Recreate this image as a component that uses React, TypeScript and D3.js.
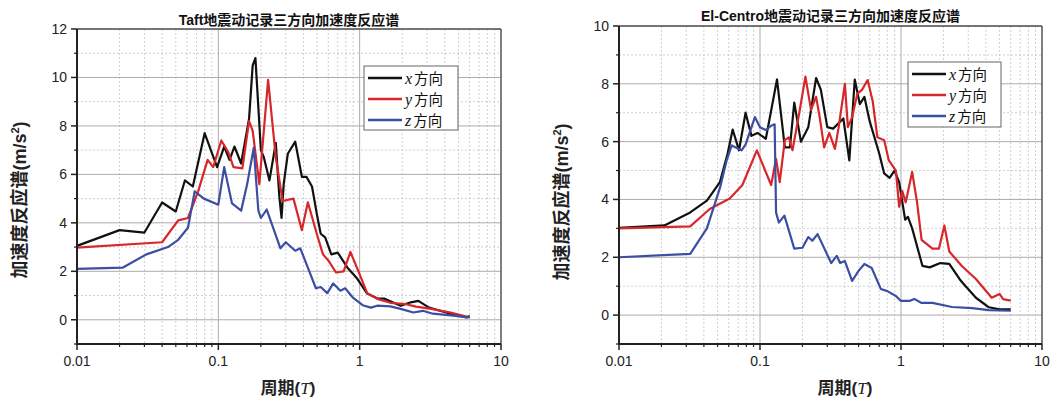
import React from 'react';
import * as d3 from 'd3';

type Pt = [number, number];

// Taft record: [period (s), spectral acceleration (m/s²)]
const taftX: Pt[] = [
  [0.01, 3.05], [0.02, 3.7], [0.03, 3.6], [0.04, 4.84], [0.05, 4.47], [0.058, 5.75], [0.066, 5.5],
  [0.08, 7.7], [0.098, 6.3], [0.11, 7.15], [0.12, 6.6], [0.13, 7.15], [0.145, 6.45], [0.165, 8.3],
  [0.175, 10.5], [0.183, 10.8], [0.2, 7.0], [0.21, 6.7], [0.23, 5.75], [0.255, 7.3], [0.27, 5.1],
  [0.28, 4.2], [0.29, 5.6], [0.31, 6.85], [0.35, 7.35], [0.39, 5.9], [0.42, 5.9], [0.46, 5.5],
  [0.5, 4.3], [0.53, 3.55], [0.57, 3.4], [0.63, 2.7], [0.7, 2.77], [0.82, 2.15], [0.96, 1.7],
  [1.13, 1.08], [1.35, 0.87], [1.5, 0.87], [1.95, 0.58], [2.3, 0.72], [2.6, 0.78], [3.1, 0.5],
  [4.4, 0.25], [5.7, 0.1], [6.0, 0.15],
];
const taftY: Pt[] = [
  [0.01, 2.98], [0.04, 3.2], [0.052, 4.1], [0.061, 4.2], [0.072, 5.3], [0.084, 6.6], [0.092, 6.3],
  [0.105, 7.4], [0.118, 6.9], [0.128, 6.3], [0.148, 6.25], [0.165, 8.2], [0.175, 7.8], [0.195, 5.6],
  [0.225, 9.9], [0.255, 6.7], [0.285, 4.9], [0.34, 5.0], [0.39, 3.7], [0.43, 4.85], [0.5, 3.5],
  [0.55, 2.7], [0.6, 2.45], [0.68, 1.95], [0.77, 2.0], [0.86, 2.8], [1.02, 1.75], [1.13, 1.1],
  [1.35, 0.85], [1.65, 0.7], [2.1, 0.65], [2.5, 0.54], [3.2, 0.45], [4.4, 0.3], [5.8, 0.12], [6.0, 0.08],
];
const taftZ: Pt[] = [
  [0.01, 2.1], [0.021, 2.15], [0.031, 2.7], [0.044, 3.0], [0.052, 3.3], [0.061, 3.8], [0.068, 5.3],
  [0.079, 5.0], [0.1, 4.75], [0.11, 6.3], [0.125, 4.8], [0.145, 4.5], [0.16, 5.6], [0.178, 7.1],
  [0.192, 4.5], [0.2, 4.2], [0.22, 4.55], [0.275, 2.95], [0.3, 3.2], [0.35, 2.85], [0.38, 2.95],
  [0.43, 2.15], [0.49, 1.3], [0.53, 1.35], [0.59, 1.1], [0.65, 1.5], [0.73, 1.2], [0.79, 1.3],
  [0.9, 0.9], [1.05, 0.6], [1.2, 0.5], [1.33, 0.58], [1.65, 0.55], [1.95, 0.45], [2.4, 0.3],
  [2.8, 0.37], [3.3, 0.25], [4.6, 0.17], [5.8, 0.1], [6.0, 0.15],
];

// El-Centro record
const elcX: Pt[] = [
  [0.01, 3.02], [0.021, 3.1], [0.032, 3.55], [0.042, 3.96], [0.052, 4.6], [0.059, 5.6], [0.064, 6.42],
  [0.071, 5.7], [0.079, 7.0], [0.087, 6.2], [0.096, 6.3], [0.11, 6.1], [0.132, 8.15], [0.15, 5.8],
  [0.163, 5.8], [0.175, 7.35], [0.195, 6.0], [0.22, 6.5], [0.25, 8.2], [0.27, 7.8], [0.3, 6.5],
  [0.33, 6.45], [0.39, 6.8], [0.43, 5.35], [0.47, 8.15], [0.51, 7.3], [0.55, 7.55], [0.6, 6.7],
  [0.7, 5.6], [0.76, 4.9], [0.83, 4.75], [0.9, 5.0], [0.97, 4.6], [1.07, 3.3], [1.12, 3.4],
  [1.2, 3.0], [1.42, 1.7], [1.6, 1.65], [1.9, 1.8], [2.2, 1.77], [2.6, 1.25], [2.75, 1.1],
  [3.4, 0.6], [4.2, 0.27], [5.0, 0.2], [6.0, 0.2],
];
const elcY: Pt[] = [
  [0.01, 3.0], [0.032, 3.07], [0.044, 3.67], [0.061, 4.03], [0.075, 4.5], [0.095, 5.7], [0.12, 4.5],
  [0.13, 5.4], [0.138, 4.6], [0.15, 6.05], [0.16, 6.15], [0.17, 5.7], [0.19, 7.0], [0.21, 8.25],
  [0.23, 7.1], [0.25, 7.55], [0.265, 6.85], [0.285, 5.8], [0.31, 6.3], [0.34, 5.75], [0.36, 6.45],
  [0.4, 8.0], [0.42, 6.5], [0.45, 6.85], [0.49, 7.65], [0.53, 7.8], [0.58, 8.13], [0.63, 7.4],
  [0.68, 6.15], [0.76, 6.05], [0.82, 5.35], [0.92, 5.0], [0.97, 3.75], [1.02, 4.3], [1.08, 3.9],
  [1.2, 4.95], [1.3, 3.9], [1.4, 2.6], [1.67, 2.3], [1.86, 2.3], [2.03, 3.1], [2.2, 2.2],
  [2.7, 1.7], [3.4, 1.25], [4.4, 0.6], [5.0, 0.73], [5.3, 0.55], [6.0, 0.5],
];
const elcZ: Pt[] = [
  [0.01, 2.0], [0.032, 2.12], [0.042, 3.0], [0.052, 4.4], [0.058, 5.35], [0.063, 5.87], [0.074, 5.7],
  [0.079, 5.9], [0.092, 6.85], [0.1, 6.5], [0.11, 6.4], [0.12, 6.55], [0.127, 6.6], [0.13, 3.55],
  [0.136, 3.2], [0.149, 3.44], [0.175, 2.3], [0.2, 2.33], [0.22, 2.7], [0.235, 2.57], [0.256, 2.8],
  [0.32, 1.8], [0.35, 2.05], [0.37, 1.8], [0.4, 1.87], [0.45, 1.18], [0.5, 1.53], [0.55, 1.77],
  [0.62, 1.63], [0.72, 0.9], [0.8, 0.83], [0.92, 0.66], [1.0, 0.49], [1.15, 0.49], [1.24, 0.56],
  [1.4, 0.42], [1.67, 0.42], [2.3, 0.28], [3.2, 0.24], [4.2, 0.17], [6.0, 0.15],
];

const xTickVals = [0.01, 0.1, 1, 10];
const xTickLabels = ['0.01', '0.1', '1', '10'];
const seriesNames = ['x', 'y', 'z'];
const seriesColors = ['#111111', '#d8272b', '#3b4ea3'];

const SANS = '"Liberation Sans", Arial, "Noto Sans CJK SC", sans-serif';
const CJK = '"Noto Sans CJK SC", sans-serif';

interface PanelProps {
  title: string;
  series: Pt[][];
  yMax: number;
  left: number; right: number; top: number; bottom: number;
  titleY: number;
  yLabelX: number; yLabelY: number;
  xLabelX: number;
  legend: { x: number; y: number; w: number; h: number; rows: number[] };
}

const Panel: React.FC<PanelProps> = (p) => {
  const x = d3.scaleLog().domain([0.01, 10]).range([p.left, p.right]);
  const y = d3.scaleLinear().domain([-1, p.yMax]).range([p.bottom, p.top]);
  const line = d3.line<Pt>().x(d => x(d[0])).y(d => y(d[1]));

  const minorX: number[] = [];
  for (let e = -2; e < 1; e++) for (let k = 2; k <= 9; k++) minorX.push(k * Math.pow(10, e));
  const majorY = d3.range(0, p.yMax + 1, 2);
  const minorY = d3.range(-1, p.yMax, 2);

  return (
    <g>
      {/* grid */}
      {minorX.map(v => (
        <line key={'mx' + v} x1={x(v)} x2={x(v)} y1={p.top} y2={p.bottom}
          stroke="#c4c4c4" strokeWidth={0.8} strokeDasharray="2,2" />
      ))}
      {minorY.map(v => (
        <line key={'my' + v} x1={p.left} x2={p.right} y1={y(v)} y2={y(v)}
          stroke="#c4c4c4" strokeWidth={0.8} strokeDasharray="2,2" />
      ))}
      {xTickVals.slice(1, 3).map(v => (
        <line key={'gx' + v} x1={x(v)} x2={x(v)} y1={p.top} y2={p.bottom} stroke="#b0aaaa" strokeWidth={1} />
      ))}
      {majorY.map(v => (
        <line key={'gy' + v} x1={p.left} x2={p.right} y1={y(v)} y2={y(v)} stroke="#b0aaaa" strokeWidth={1} />
      ))}

      {/* curves */}
      {p.series.map((s, i) => (
        <path key={i} d={line(s) || ''} fill="none" stroke={seriesColors[i]} strokeWidth={2.2}
          strokeLinejoin="round" />
      ))}

      {/* frame */}
      <line x1={p.left} x2={p.right} y1={p.top} y2={p.top} stroke="#555" strokeWidth={1.5} />
      <line x1={p.right} x2={p.right} y1={p.top} y2={p.bottom} stroke="#555" strokeWidth={1.5} />
      <line x1={p.left} x2={p.left} y1={p.top} y2={p.bottom + 1} stroke="#222" strokeWidth={2} />
      <line x1={p.left - 1} x2={p.right} y1={p.bottom} y2={p.bottom} stroke="#222" strokeWidth={2} />

      {/* y ticks */}
      {majorY.map(v => (
        <g key={'ty' + v}>
          <line x1={p.left - 6} x2={p.left} y1={y(v)} y2={y(v)} stroke="#222" strokeWidth={1.5} />
          <text x={p.left - 10} y={y(v)} dy="0.35em" textAnchor="end" fontSize={14}
            fontFamily={SANS} fill="#222">{v}</text>
        </g>
      ))}
      {minorY.map(v => (
        <line key={'ty2' + v} x1={p.left - 3} x2={p.left} y1={y(v)} y2={y(v)} stroke="#222" strokeWidth={1.2} />
      ))}

      {/* x ticks */}
      {xTickVals.map((v, i) => (
        <g key={'tx' + v}>
          <line x1={x(v)} x2={x(v)} y1={p.bottom} y2={p.bottom + 6} stroke="#222" strokeWidth={1.5} />
          <text x={x(v)} y={p.bottom + 22} textAnchor="middle" fontSize={14}
            fontFamily={SANS} fill="#222">{xTickLabels[i]}</text>
        </g>
      ))}
      {minorX.map(v => (
        <line key={'tx2' + v} x1={x(v)} x2={x(v)} y1={p.bottom} y2={p.bottom + 3} stroke="#222" strokeWidth={1.2} />
      ))}

      {/* title */}
      <text x={(p.left + p.right) / 2} y={p.titleY} textAnchor="middle" fontSize={14}
        fontWeight="bold" fontFamily={SANS} fill="#111">{p.title}</text>

      {/* axis labels */}
      <text transform={`translate(${p.yLabelX},${p.yLabelY}) rotate(-90)`} textAnchor="middle"
        fontSize={18} fontWeight="bold" fontFamily={SANS} fill="#222">
        加速度反应谱(m/s<tspan fontSize={11} dy={-7}>2</tspan><tspan dy={7}>)</tspan>
      </text>
      <text x={p.xLabelX} y={p.bottom + 50} textAnchor="middle" fontSize={17} fontWeight="bold"
        fontFamily={SANS} fill="#222">
        周期(<tspan fontStyle="italic" fontWeight="normal" fontFamily='"Liberation Serif", serif'>T</tspan>)
      </text>

      {/* legend */}
      <rect x={p.legend.x} y={p.legend.y} width={p.legend.w} height={p.legend.h}
        fill="#fff" stroke="#666" strokeWidth={1} />
      {seriesNames.map((n, i) => (
        <g key={'lg' + n}>
          <line x1={p.legend.x + 4} x2={p.legend.x + 38} y1={p.legend.rows[i]} y2={p.legend.rows[i]}
            stroke={seriesColors[i]} strokeWidth={2.5} />
          <text x={p.legend.x + 41} y={p.legend.rows[i]} dy="0.35em" fontSize={16} fill="#111">
            <tspan fontStyle="italic" fontFamily='"Liberation Serif", serif'>{n}</tspan>
            <tspan dx={2} fontFamily={CJK} fontSize={14.5}>方向</tspan>
          </text>
        </g>
      ))}
    </g>
  );
};

export default function App() {
  return (
    <svg width={1063} height={399} style={{ position: 'absolute', left: 0, top: 0, background: '#fff' }}>
      <Panel
        title="Taft地震动记录三方向加速度反应谱"
        series={[taftX, taftY, taftZ]}
        yMax={12}
        left={77} right={501} top={29} bottom={344}
        titleY={25}
        yLabelX={26} yLabelY={200}
        xLabelX={288}
        legend={{ x: 364, y: 66, w: 94, h: 64, rows: [78, 99, 120] }}
      />
      <Panel
        title="El-Centro地震动记录三方向加速度反应谱"
        series={[elcX, elcY, elcZ]}
        yMax={10}
        left={619} right={1042} top={26} bottom={344}
        titleY={21}
        yLabelX={568} yLabelY={202}
        xLabelX={845}
        legend={{ x: 908, y: 62, w: 93, h: 65, rows: [74, 95, 116] }}
      />
    </svg>
  );
}
